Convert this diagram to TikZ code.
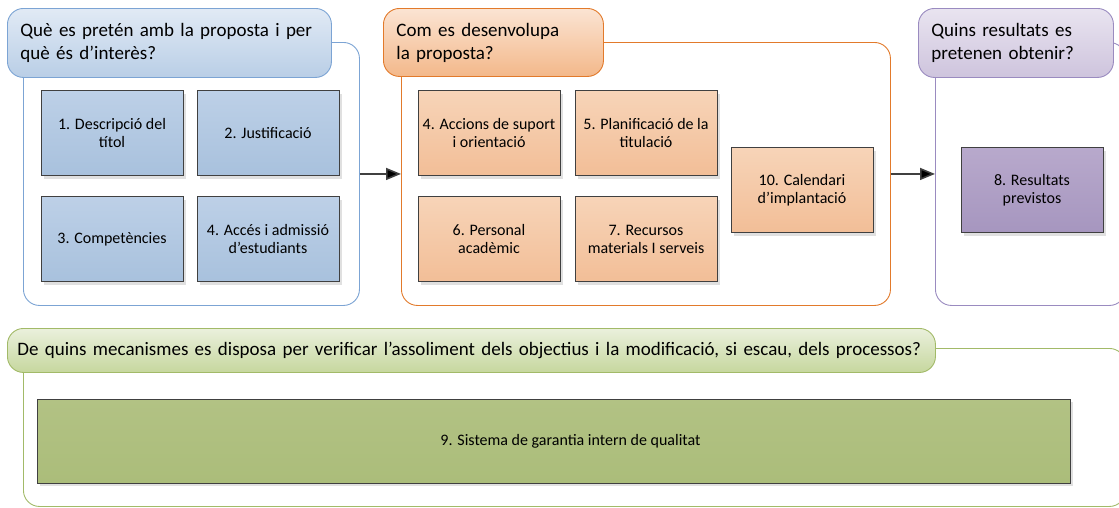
\documentclass[tikz,border=0pt]{standalone}
\usepackage{fontspec}
\setmainfont{Carlito}
\usepackage{xcolor}
\usepackage{tikz}
\usetikzlibrary{arrows,arrows.meta,shadows}

\definecolor{blueline}{HTML}{7CA4D4}
\definecolor{bluetop}{HTML}{E1EAF5}
\definecolor{bluebot}{HTML}{B9CEE6}
\definecolor{blueboxtop}{HTML}{BDD0E7}
\definecolor{blueboxbot}{HTML}{A8C1DD}
\definecolor{orangeline}{HTML}{E27A2B}
\definecolor{orangetop}{HTML}{FBE4D3}
\definecolor{orangebot}{HTML}{F3B88A}
\definecolor{orangeboxtop}{HTML}{F7D4B8}
\definecolor{orangeboxbot}{HTML}{F2BE97}
\definecolor{purpleline}{HTML}{9A8BC0}
\definecolor{purpletop}{HTML}{E9E4F0}
\definecolor{purplebot}{HTML}{CEC4DD}
\definecolor{purpleboxtop}{HTML}{B8A9CC}
\definecolor{purpleboxbot}{HTML}{A696BF}
\definecolor{greenline}{HTML}{A2BA68}
\definecolor{greentop}{HTML}{EAF0DC}
\definecolor{greenbot}{HTML}{C6D79E}
\definecolor{greenboxtop}{HTML}{B2C284}
\definecolor{greenboxbot}{HTML}{ABBD7A}
\definecolor{boxline}{HTML}{404040}

\begin{document}
\begin{tikzpicture}[x=1pt,y=-1pt,>={Triangle[length=15pt,width=12pt]},node distance=156pt,
    group/.style={draw,fill=white,rounded corners=16pt,line width=0.9pt,anchor=north west,inner sep=0pt},
    title/.style={draw,rounded corners=16pt,line width=0.9pt,anchor=north west,align=left,inner xsep=13pt,inner ysep=0pt,font=\fontsize{19}{23}\selectfont},
    main node/.style={draw=boxline,line width=0.8pt,minimum width=142pt,minimum height=85pt,align=center,inner sep=2pt,font=\fontsize{16}{18}\selectfont,drop shadow={shadow xshift=3pt,shadow yshift=-3pt,fill=black,opacity=0.12}},
    blue node/.style={main node,top color=blueboxtop,bottom color=blueboxbot},
    orange node/.style={main node,top color=orangeboxtop,bottom color=orangeboxbot},
    purple node/.style={main node,top color=purpleboxtop,bottom color=purpleboxbot},
    green node/.style={main node,top color=greenboxtop,bottom color=greenboxbot}]
    \useasboundingbox (0,0) rectangle (1119,507);
    \clip (0,0) rectangle (1119,507);

    % containers
    \node[group,draw=blueline,minimum width=336pt,minimum height=263pt] (g1) at (23,42) {};
    \node[group,draw=orangeline,minimum width=489pt,minimum height=263pt] (g2) at (401,42) {};
    \node[group,draw=purpleline,minimum width=190pt,minimum height=263pt] (g3) at (935,42) {};
    \node[group,draw=greenline,minimum width=1102pt,minimum height=158pt] (g4) at (23,348) {};

    % titles
    \node[title,draw=blueline,top color=bluetop,bottom color=bluebot,text width=298pt,minimum height=69pt] (t1) at (7,8) {Què es pretén amb la proposta i per\\què és d’interès?};
    \node[title,draw=orangeline,top color=orangetop,bottom color=orangebot,text width=194pt,minimum height=68pt] (t2) at (383,8) {Com es desenvolupa\\la proposta?};
    \node[title,draw=purpleline,top color=purpletop,bottom color=purplebot,text width=169pt,minimum height=69pt] (t3) at (918,8) {Quins resultats es\\pretenen obtenir?};
    \node[title,draw=greenline,top color=greentop,bottom color=greenbot,inner xsep=10pt,text width=908pt,minimum height=44pt] (t4) at (7,328) {De quins mecanismes es disposa per verificar l’assoliment dels objectius i la modificació, si escau, dels processos?};

    % boxes
    \node[blue node] (d1) at (112,133) {1. Descripció del\\títol};
    \node[blue node] (d2) [right of=d1] {2. Justificació};
    \node[blue node] (d3) [below of=d1,node distance=106pt] {3. Competències};
    \node[blue node] (d4) [right of=d3] {4. Accés i admissió\\d’estudiants};
    \node[orange node] (o4) at (489,133) {4. Accions de suport\\i orientació};
    \node[orange node] (o5) [right of=o4,node distance=157pt] {5. Planificació de la\\titulació};
    \node[orange node] (o6) [below of=o4,node distance=106pt] {6. Personal\\acadèmic};
    \node[orange node] (o7) [right of=o6,node distance=157pt] {7. Recursos\\materials I serveis};
    \node[orange node] (o10) at (802,190) {10. Calendari\\d’implantació};
    \node[purple node] (p8) at (1032,190) {8. Resultats\\previstos};
    \node[green node,minimum width=1033pt,minimum height=84pt] (q9) at (553.5,441) {\hspace*{34pt}9. Sistema de garantia intern de qualitat};

    \path[->,draw=boxline,line width=1.6pt]
    (g1) edge (g2)
    (g2) edge (g3);
\end{tikzpicture}
\end{document}
